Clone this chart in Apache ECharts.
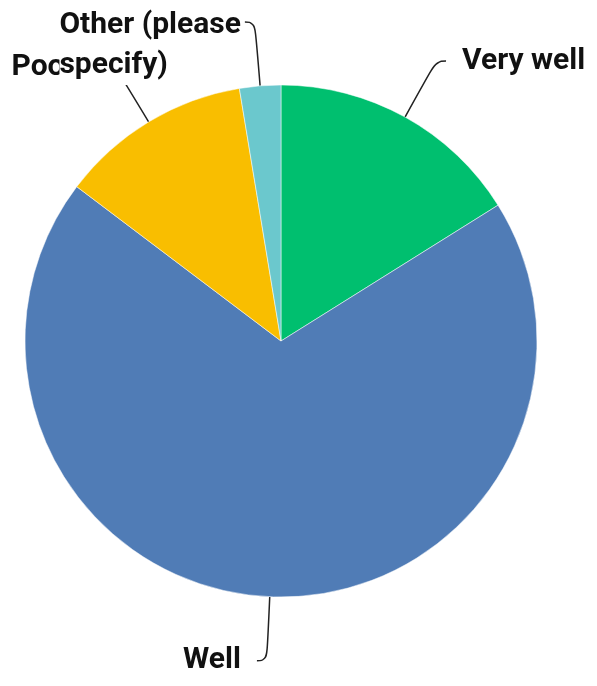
<!DOCTYPE html>
<html>
<head>
<meta charset="utf-8">
<script src="https://cdn.jsdelivr.net/npm/echarts@6/dist/echarts.min.js"></script>
<style>
html,body{margin:0;padding:0;background:#fff;}
#chart{width:597px;height:686px;}
</style>
</head>
<body>
<div id="chart"></div>
<script>
var categories = ['Very well', 'Well', 'Poor', 'Other (please specify)'];
var values = [16.1, 69.2, 12.1, 2.6];
var colors = ['#00BF6F', '#507CB6', '#F9BE00', '#6BC8CD'];

var font = { fontFamily: 'Roboto, sans-serif', fontWeight: 'bold', fontSize: 30, lineHeight: 40, color: '#111', align: 'left' };

var itemLabels = {
  'Poor': { padding: [0, 14, 0, 0] },
  'Other (please specify)': { padding: [46, 0, 0, 0], distanceToLabelLine: 4 }
};

var chart = echarts.init(document.getElementById('chart'));
chart.setOption({
  backgroundColor: '#fff',
  animation: false,
  series: [{
    type: 'pie',
    center: [281, 341],
    radius: 256,
    startAngle: 90,
    clockwise: true,
    avoidLabelOverlap: false,
    labelLayout: { hideOverlap: false },
    data: categories.map(function (c, i) {
      var d = { name: c, value: values[i], itemStyle: { color: colors[i] } };
      if (itemLabels[c]) d.label = itemLabels[c];
      return d;
    }),
    itemStyle: { borderColor: '#fff', borderWidth: 0.5 },
    label: {
      show: true,
      formatter: function (p) {
        return p.name.replace(' specify', '\nspecify').split('\n').map(function (s) {
          return '{l|' + s + '}';
        }).join('\n');
      },
      rich: { l: font },
      color: '#111',
      fontFamily: 'Roboto, sans-serif',
      fontWeight: 'bold',
      fontSize: 30,
      lineHeight: 40,
      distanceToLabelLine: 16,
      backgroundColor: '#fff'
    },
    labelLine: {
      show: true,
      length: 64,
      length2: 10,
      smooth: 0.5,
      lineStyle: { color: '#222', width: 1.5 }
    },
    emphasis: { disabled: true }
  }]
});
</script>
</body>
</html>
